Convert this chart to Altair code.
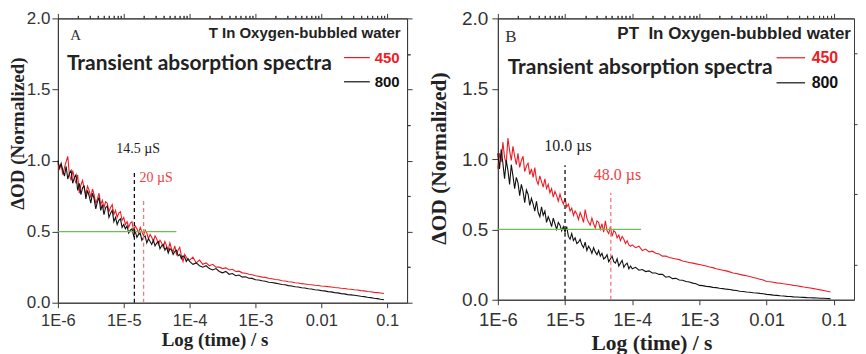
import altair as alt
import pandas as pd

# ---------------- data ----------------
LOG_T = [round(-6 + 0.025 * i, 3) for i in range(80)] + [round(-4 + 0.05 * i, 3) for i in range(60)]
TIME = [10 ** v for v in LOG_T]

A_450 = [0.98, 0.94, 0.97, 0.90, 0.95, 0.99, 1.03, 0.90, 0.86, 0.93,
         0.88, 0.84, 0.90, 0.77, 0.83, 0.86, 0.80, 0.76, 0.82, 0.79,
         0.74, 0.80, 0.76, 0.70, 0.73, 0.77, 0.69, 0.72, 0.67, 0.71,
         0.70, 0.64, 0.67, 0.69, 0.62, 0.65, 0.60, 0.63, 0.64, 0.58,
         0.60, 0.55, 0.57, 0.53, 0.56, 0.57, 0.51, 0.54, 0.52, 0.49,
         0.53, 0.50, 0.47, 0.51, 0.49, 0.45, 0.48, 0.46, 0.43, 0.47,
         0.45, 0.41, 0.44, 0.42, 0.39, 0.43, 0.40, 0.37, 0.42, 0.38,
         0.36, 0.40, 0.34, 0.37, 0.39, 0.33, 0.29, 0.34, 0.32, 0.30,
         0.30, 0.32, 0.28, 0.30, 0.27, 0.28, 0.26, 0.27, 0.25, 0.25,
         0.24, 0.245, 0.23, 0.235, 0.22, 0.222, 0.21, 0.207, 0.20, 0.197,
         0.19, 0.186, 0.18, 0.178, 0.172, 0.169, 0.163, 0.161, 0.155, 0.153,
         0.148, 0.146, 0.14, 0.139, 0.134, 0.132, 0.128, 0.126, 0.123, 0.121,
         0.118, 0.116, 0.113, 0.111, 0.107, 0.105, 0.102, 0.1, 0.096, 0.095,
         0.091, 0.089, 0.085, 0.083, 0.079, 0.077, 0.073, 0.071, 0.068, 0.065]

A_800 = [1.00, 0.95, 0.98, 0.93, 0.89, 0.96, 0.87, 0.91, 0.93, 0.84,
         0.88, 0.90, 0.79, 0.84, 0.76, 0.81, 0.82, 0.73, 0.79, 0.75,
         0.70, 0.77, 0.73, 0.66, 0.71, 0.74, 0.65, 0.69, 0.62, 0.67,
         0.68, 0.60, 0.63, 0.65, 0.57, 0.60, 0.55, 0.58, 0.59, 0.53,
         0.55, 0.52, 0.54, 0.49, 0.51, 0.52, 0.47, 0.50, 0.46, 0.48,
         0.49, 0.44, 0.46, 0.47, 0.42, 0.45, 0.43, 0.41, 0.44, 0.40,
         0.42, 0.43, 0.38, 0.40, 0.41, 0.37, 0.39, 0.35, 0.38, 0.37,
         0.34, 0.36, 0.37, 0.33, 0.34, 0.31, 0.33, 0.32, 0.29, 0.31,
         0.29, 0.27, 0.28, 0.26, 0.25, 0.26, 0.24, 0.23, 0.24, 0.22,
         0.21, 0.22, 0.20, 0.205, 0.19, 0.195, 0.18, 0.183, 0.172, 0.171,
         0.162, 0.16, 0.154, 0.151, 0.144, 0.142, 0.138, 0.134, 0.128, 0.126,
         0.12, 0.118, 0.112, 0.11, 0.105, 0.103, 0.098, 0.096, 0.091, 0.089,
         0.085, 0.083, 0.078, 0.076, 0.071, 0.069, 0.064, 0.062, 0.057, 0.055,
         0.052, 0.049, 0.045, 0.043, 0.038, 0.036, 0.031, 0.029, 0.024, 0.021]

B_450 = [0.93, 1.04, 0.98, 1.12, 1.01, 0.97, 1.15, 1.06, 0.99, 1.09,
         1.02, 0.96, 1.04, 0.94, 0.99, 1.02, 0.91, 0.95, 0.97, 0.89,
         0.93, 0.87, 0.94, 0.85, 0.82, 0.88, 0.84, 0.80, 0.86, 0.79,
         0.82, 0.76, 0.79, 0.73, 0.77, 0.74, 0.70, 0.75, 0.71, 0.68,
         0.72, 0.66, 0.68, 0.63, 0.65, 0.60, 0.63, 0.61, 0.57, 0.62,
         0.59, 0.55, 0.64, 0.58, 0.55, 0.53, 0.58, 0.54, 0.51, 0.56,
         0.55, 0.50, 0.54, 0.48, 0.56, 0.49, 0.47, 0.52, 0.45, 0.49,
         0.48, 0.44, 0.46, 0.42, 0.45, 0.43, 0.40, 0.42, 0.39, 0.38,
         0.39, 0.37, 0.38, 0.35, 0.36, 0.34, 0.345, 0.33, 0.325, 0.31,
         0.31, 0.30, 0.295, 0.29, 0.285, 0.275, 0.27, 0.265, 0.26, 0.255,
         0.25, 0.245, 0.24, 0.232, 0.228, 0.22, 0.215, 0.21, 0.205, 0.198,
         0.19, 0.186, 0.18, 0.175, 0.17, 0.165, 0.158, 0.152, 0.146, 0.14,
         0.13, 0.128, 0.124, 0.12, 0.117, 0.113, 0.11, 0.106, 0.102, 0.099,
         0.095, 0.09, 0.087, 0.083, 0.079, 0.075, 0.07, 0.066, 0.06, 0.055]

B_800 = [1.04, 0.93, 1.07, 0.97, 0.86, 0.99, 0.92, 0.82, 0.96, 0.88,
         0.79, 0.87, 0.83, 0.74, 0.82, 0.77, 0.69, 0.78, 0.75, 0.67,
         0.72, 0.68, 0.63, 0.70, 0.62, 0.59, 0.66, 0.60, 0.63, 0.55,
         0.59, 0.56, 0.52, 0.58, 0.54, 0.50, 0.55, 0.53, 0.49, 0.52,
         0.48, 0.52, 0.45, 0.43, 0.47, 0.42, 0.44, 0.40, 0.41, 0.43,
         0.39, 0.37, 0.41, 0.35, 0.38, 0.36, 0.33, 0.37, 0.34, 0.32,
         0.35, 0.31, 0.33, 0.29, 0.30, 0.32, 0.27, 0.29, 0.31, 0.27,
         0.26, 0.29, 0.24, 0.26, 0.28, 0.23, 0.25, 0.26, 0.22, 0.24,
         0.22, 0.23, 0.21, 0.215, 0.20, 0.205, 0.19, 0.19, 0.18, 0.18,
         0.16, 0.165, 0.15, 0.152, 0.14, 0.138, 0.13, 0.126, 0.118, 0.114,
         0.102, 0.1, 0.095, 0.093, 0.088, 0.086, 0.082, 0.079, 0.075, 0.073,
         0.068, 0.066, 0.06, 0.059, 0.055, 0.053, 0.05, 0.048, 0.045, 0.043,
         0.038, 0.036, 0.033, 0.031, 0.028, 0.027, 0.024, 0.023, 0.02, 0.019,
         0.018, 0.017, 0.015, 0.014, 0.013, 0.012, 0.011, 0.01, 0.009, 0.008]

# half-life markers (time in s, top of dashed line)
A_MARK_T = [14.5e-6, 20e-6]
A_MARK_TOP = [0.92, 0.73]
A_MARK_LABELS = ["14.5 \u00b5S", "20 \u00b5S"]
B_MARK_T = [10.0e-6, 48.0e-6]
B_MARK_TOP = [0.956, 0.76]
B_MARK_LABELS = ["10.0 \u00b5s", "48.0 \u00b5s"]

HALF_LEVEL = 0.5
A_HALF_END = 6.3e-5
B_HALF_END = 1.35e-4

X_TICK_LABELS = ["1E-6", "1E-5", "1E-4", "1E-3", "0.01", "0.1"]
DECADES = [1e-6, 1e-5, 1e-4, 1e-3, 1e-2, 1e-1]
X_MINOR = [m * d for d in DECADES[:-1] for m in range(2, 10)]
Y_MAJOR = [0, 0.5, 1.0, 1.5, 2.0]
Y_MINOR = [0.25, 0.75, 1.25, 1.75]

SERIES = ["450", "800"]

RED = "#ed1c24"
BLACK = "#111111"
RED_DASH = "#f47a7a"
GREEN = "#6cbf50"
AXIS_COL = "#3a3a3a"

L = "(log(datum.value)/LN10)"
labels_arr = "[" + ",".join(f"'{s}'" for s in X_TICK_LABELS) + "]"
X_LABEL_EXPR = f"{labels_arr}[round({L}) + 6]"

TICK = dict(tickColor=AXIS_COL, tickWidth=1, domainColor=AXIS_COL, grid=False)


def panel(cfg):
    xs = alt.Scale(type="log", domain=[1e-6, 0.2], nice=False)
    ys = alt.Scale(domain=[0, 2], nice=False)
    fs, tfs = cfg["label_size"], cfg["title_size"]
    w = cfg["w"]

    x_axis = alt.Axis(values=DECADES, labelExpr=X_LABEL_EXPR, tickSize=5, **TICK,
                      labelFont="Liberation Sans", labelFontSize=fs, labelColor="#333",
                      labelPadding=cfg["xlab_pad"], labelFlush=False, labelOverlap=False,
                      title="Log (time) / s", titleFont="Liberation Serif", titleFontSize=tfs,
                      titleFontWeight="bold", titleColor="#222", titleBaseline="alphabetic",
                      titleX=cfg["xtitle_x"], titleY=cfg["xtitle_y"])
    y_axis = alt.Axis(values=Y_MAJOR, format=".1f", tickSize=6, **TICK,
                      labelFont="Liberation Sans", labelFontSize=cfg["ylabel_size"], labelColor="#333",
                      labelPadding=cfg["ylab_pad"], labelFlush=False, labelOverlap=False,
                      title="\u0394OD (Normalized)", titleFont="Liberation Serif", titleFontSize=tfs,
                      titleFontWeight="bold", titleColor="#222", titleBaseline="alphabetic",
                      titleX=cfg["ytitle_x"], titleY=cfg["ytitle_y"])
    x_minor = alt.Axis(values=X_MINOR, labels=False, title=None, domain=False, tickSize=3, **TICK)
    y_minor = alt.Axis(values=Y_MINOR, labels=False, title=None, domain=False, tickSize=3, **TICK)
    x_top = alt.Axis(orient="top", values=DECADES, labels=False, title=None, tickSize=5, **TICK)
    x_top_minor = alt.Axis(orient="top", values=X_MINOR, labels=False, title=None, domain=False,
                           tickSize=3, **TICK)
    if cfg["right_ticks"]:
        y_right = alt.Axis(orient="right", values=Y_MAJOR, labels=False, title=None, tickSize=5, **TICK)
        y_right_minor = alt.Axis(orient="right", values=Y_MINOR, labels=False, title=None,
                                 domain=False, tickSize=3, **TICK)
    else:
        y_right = None
        y_right_minor = None

    d450 = pd.DataFrame({"t": TIME, "od": cfg["v450"]})
    d800 = pd.DataFrame({"t": TIME, "od": cfg["v800"]})

    base = alt.Chart(d450).mark_line(color=RED, strokeWidth=1.1).encode(
        x=alt.X("t:Q", scale=xs, axis=x_axis), y=alt.Y("od:Q", scale=ys, axis=y_axis))
    black = alt.Chart(d800).mark_line(color=BLACK, strokeWidth=1.1).encode(
        x=alt.X("t:Q", scale=xs, axis=x_minor), y=alt.Y("od:Q", scale=ys, axis=y_minor))

    green = alt.Chart(pd.DataFrame({"t": [1e-6, cfg["half_end"]], "od": [HALF_LEVEL, HALF_LEVEL]})).mark_line(
        color=GREEN, strokeWidth=1.2).encode(
        x=alt.X("t:Q", scale=xs, axis=x_top), y=alt.Y("od:Q", scale=ys, axis=y_right))

    rules = []
    for i, col in enumerate([BLACK, RED_DASH]):
        dfr = pd.DataFrame({"t": [cfg["mark_t"][i]], "y0": [0.0], "y1": [cfg["mark_top"][i]]})
        xa = x_top_minor if i == 0 else None
        ya = y_right_minor if i == 0 else None
        rules.append(alt.Chart(dfr).mark_rule(color=col, strokeWidth=1.3, strokeDash=[4, 3]).encode(
            x=alt.X("t:Q", scale=xs, axis=xa), y=alt.Y("y0:Q", scale=ys, axis=ya), y2="y1:Q"))

    leg = pd.DataFrame({"t": [cfg["leg_x1"]] * 2, "t2": [cfg["leg_x2"]] * 2,
                        "od": cfg["leg_y"], "s": SERIES})
    leg_lines = alt.Chart(leg).mark_rule(strokeWidth=1.2).encode(
        x=alt.X("t:Q", scale=xs, axis=None), x2="t2:Q", y=alt.Y("od:Q", scale=ys, axis=None),
        color=alt.Color("s:N", scale=alt.Scale(domain=SERIES, range=[RED, BLACK]), legend=None))

    texts = []
    for (txt, tx, ty, font, size, weight, color, align) in cfg["texts"]:
        dft = pd.DataFrame({"t": [tx], "od": [ty], "label": [txt]})
        texts.append(alt.Chart(dft).mark_text(font=font, fontSize=size, fontWeight=weight, color=color,
                                              align=align, baseline="middle").encode(
            x=alt.X("t:Q", scale=xs, axis=None), y=alt.Y("od:Q", scale=ys, axis=None), text="label:N"))

    return alt.layer(base, black, green, *rules, leg_lines, *texts).resolve_axis(
        x="independent", y="independent").properties(width=w, height=cfg["h"])


serif = "Liberation Serif"
sans = "Liberation Sans"
calib = "Lato"

cfgA = dict(
    v450=A_450, v800=A_800, w=350, h=285, label_size=16.5, ylabel_size=17, title_size=19,
    xlab_pad=4.5, ylab_pad=2, xtitle_x=157, xtitle_y=42.5, ytitle_x=-34, ytitle_y=115,
    right_ticks=True,
    half_end=A_HALF_END, mark_t=A_MARK_T, mark_top=A_MARK_TOP,
    leg_x1=0.0221, leg_x2=0.0544, leg_y=[1.724, 1.554],
    texts=[
        ("A", 1.86e-6, 1.88, serif, 15, "normal", "#333", "center"),
        ("T In Oxygen-bubbled water", 0.16, 1.90, sans, 15, "bold", "#222", "right"),
        ("Transient absorption spectra", 1.37e-6, 1.68, calib, 21, "bold", "#222", "left"),
        ("450", 0.0646, 1.724, sans, 15, "bold", RED, "left"),
        ("800", 0.0646, 1.554, sans, 15, "bold", BLACK, "left"),
        (A_MARK_LABELS[0], 1.65e-5, 1.08, serif, 14, "normal", "#222", "center"),
        (A_MARK_LABELS[1], 3.11e-5, 0.874, serif, 14, "normal", "#f04040", "center"),
    ])

cfgB = dict(
    v450=B_450, v800=B_800, w=357, h=282, label_size=18.5, ylabel_size=19, title_size=21.5,
    xlab_pad=5.4, ylab_pad=4, xtitle_x=154, xtitle_y=49.5, ytitle_x=-52, ytitle_y=140,
    right_ticks=False,
    half_end=B_HALF_END, mark_t=B_MARK_T, mark_top=B_MARK_TOP,
    leg_x1=0.01406, leg_x2=0.0374, leg_y=[1.72, 1.542],
    texts=[
        ("B", 1.57e-6, 1.867, serif, 17, "normal", "#333", "center"),
        ("PT\u00a0 In Oxygen-bubbled water", 0.18, 1.886, sans, 17, "bold", "#222", "right"),
        ("Transient absorption spectra", 1.40e-6, 1.65, calib, 21, "bold", "#222", "left"),
        ("450", 0.0468, 1.72, sans, 16, "bold", RED, "left"),
        ("800", 0.0468, 1.542, sans, 16, "bold", BLACK, "left"),
        (B_MARK_LABELS[0], 1.107e-5, 1.09, serif, 16, "normal", "#222", "center"),
        (B_MARK_LABELS[1], 6.03e-5, 0.885, serif, 16, "normal", "#f04040", "center"),
    ])

chart = alt.hconcat(panel(cfgA), panel(cfgB), spacing=91, bounds="flush").properties(
    padding={"left": 0, "top": 0, "right": 0, "bottom": 0}
).configure_view(stroke=AXIS_COL, strokeWidth=1)

chart.save("out.html", embed_options={"renderer": "svg", "actions": False})
